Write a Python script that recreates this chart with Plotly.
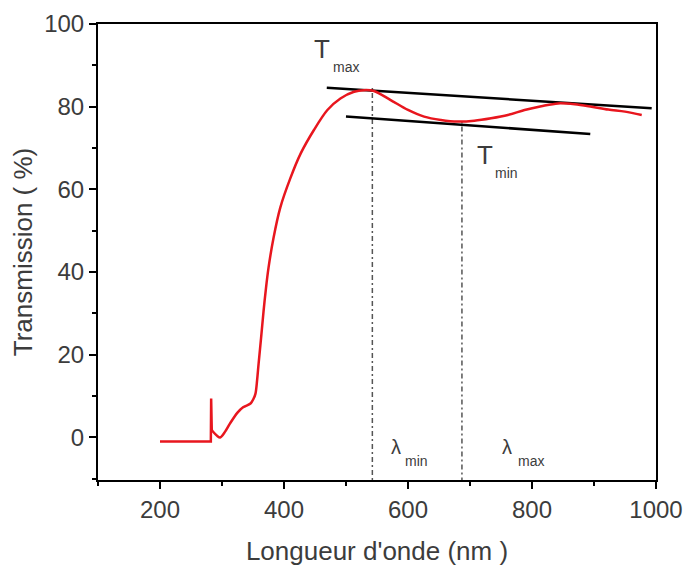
import plotly.graph_objects as go

# Transmission spectrum of the film
wavelength = [200, 282, 282.5, 283.5, 286, 292, 297, 305, 313, 325, 334, 346, 351, 354,
              356.6, 359, 363, 367, 371, 375, 383, 394, 410, 427, 448, 470, 491, 513,
              529, 545, 572, 600, 626, 653, 680, 707, 734, 761, 788, 815, 842, 869,
              896, 923, 950, 977]
transmission = [-1.0, -1.0, 9.4, 1.8, 1.3, 0.4, 0.0, 1.4, 3.4, 6.0, 7.3, 8.2, 9.4, 10.6,
                13.8, 17.8, 24.0, 30.5, 36.2, 41.0, 48.2, 55.6, 62.6, 68.7, 74.3, 79.2,
                82.0, 83.6, 84.0, 83.8, 81.6, 79.2, 77.6, 76.8, 76.4, 76.6, 77.2, 78.0,
                79.2, 80.1, 80.8, 80.6, 80.0, 79.3, 78.8, 78.0]

# Envelopes through the maxima and minima
env_max_x = [469, 993]
env_max_y = [84.6, 79.6]
env_min_x = [500, 894]
env_min_y = [77.6, 73.4]

# Wavelengths of the marked extrema
lambda_min = 542.5
lambda_max = 687
t_at_lambda_min = 84.5
t_at_lambda_max = 76.4

x_ticks = [200, 400, 600, 800, 1000]
y_ticks = [0, 20, 40, 60, 80, 100]

text_col = "#3c3c3c"
font = "Liberation Sans, Arial, sans-serif"
red = "rgb(232,22,30)"

fig = go.Figure()

for xv, yv in ((lambda_min, t_at_lambda_min), (lambda_max, t_at_lambda_max)):
    fig.add_trace(go.Scatter(x=[xv, xv], y=[yv, -10.3], mode="lines",
                             line=dict(color="#555555", width=1.5, dash="2px,3px,5px,3px"),
                             hoverinfo="skip", showlegend=False))

fig.add_trace(go.Scatter(x=env_max_x, y=env_max_y, mode="lines",
                         line=dict(color="black", width=2.5), showlegend=False))
fig.add_trace(go.Scatter(x=env_min_x, y=env_min_y, mode="lines",
                         line=dict(color="black", width=2.5), showlegend=False))

# baseline and the sharp artefact at the lamp switch: straight segments
fig.add_trace(go.Scatter(x=wavelength[:4], y=transmission[:4], mode="lines",
                         line=dict(color=red, width=2.5), showlegend=False))
# absorption edge and interference fringes: smooth curve
fig.add_trace(go.Scatter(x=wavelength[3:], y=transmission[3:], mode="lines",
                         line=dict(color=red, width=2.5, shape="spline", smoothing=0.9),
                         showlegend=False))


def label(x, y, text, size):
    fig.add_annotation(x=x, y=y, text=text, showarrow=False, xanchor="center",
                       yanchor="middle", font=dict(family=font, size=size, color=text_col))


label(460.7, 93.9, "T", 26)
label(499.6, 89.6, "max", 14)
label(724.7, 68.3, "T", 26)
label(759.5, 63.9, "min", 14)
label(580.6, -2.2, "λ", 20)
label(613.8, -5.8, "min", 14)
label(759.5, -2.2, "λ", 20)
label(799.0, -5.8, "max", 14)

axis_common = dict(
    showline=True, linecolor="black", linewidth=2, mirror=True,
    ticks="outside", tickcolor="black", tickwidth=2, ticklen=7,
    showgrid=False, zeroline=False, automargin=False,
    tickfont=dict(family=font, size=24, color=text_col),
)

fig.update_xaxes(range=[100, 1000], tickvals=x_ticks,
                 minor=dict(dtick=100, tick0=100, ticks="outside", ticklen=4,
                            tickwidth=2, tickcolor="black"),
                 title=dict(text="Longueur d'onde (nm )", standoff=20,
                            font=dict(family=font, size=26, color=text_col)),
                 **axis_common)
fig.update_yaxes(range=[-10.3, 100], tickvals=y_ticks,
                 minor=dict(dtick=10, tick0=-10, ticks="outside", ticklen=4,
                            tickwidth=2, tickcolor="black"),
                 title=dict(text="Transmission ( %)", standoff=4,
                            font=dict(family=font, size=26, color=text_col)),
                 **axis_common)

fig.update_layout(width=683, height=575, margin=dict(l=98, r=27, t=24, b=95),
                  plot_bgcolor="white", paper_bgcolor="white")

fig.write_html("out.html")
